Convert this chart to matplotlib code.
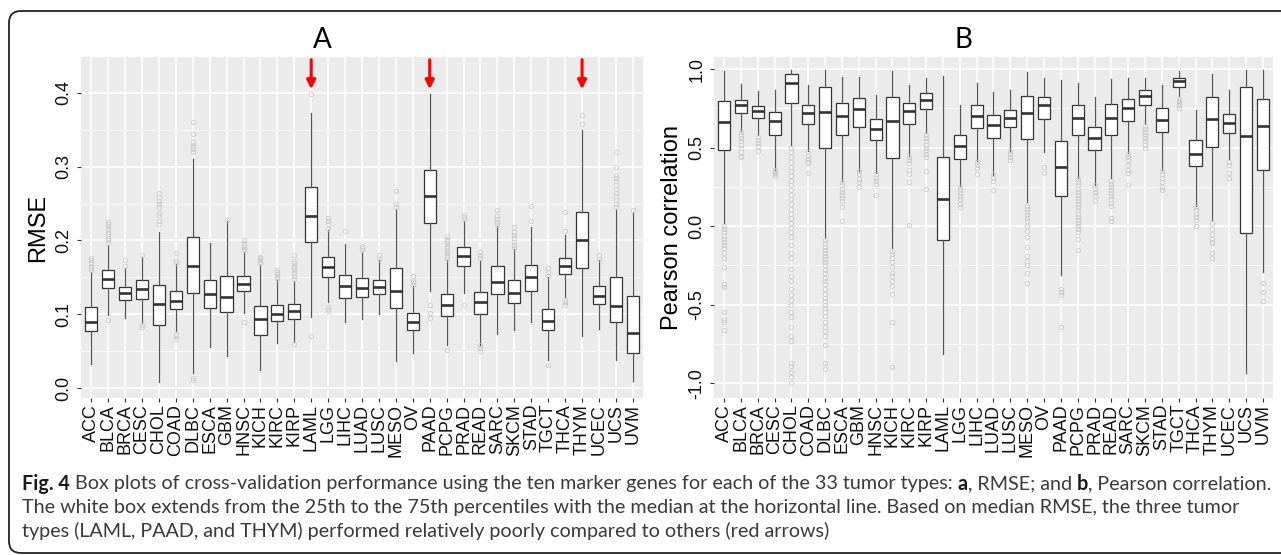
import matplotlib
matplotlib.use("Agg")
import matplotlib.pyplot as plt
from matplotlib.patches import FancyBboxPatch
from matplotlib.transforms import IdentityTransform

tumors = ["ACC", "BLCA", "BRCA", "CESC", "CHOL", "COAD", "DLBC", "ESCA", "GBM", "HNSC",
          "KICH", "KIRC", "KIRP", "LAML", "LGG", "LIHC", "LUAD", "LUSC", "MESO", "OV",
          "PAAD", "PCPG", "PRAD", "READ", "SARC", "SKCM", "STAD", "TGCT", "THCA", "THYM",
          "UCEC", "UCS", "UVM"]

# panel A: RMSE box stats
rmse_q1 = [0.077, 0.135, 0.119, 0.121, 0.086, 0.107, 0.129, 0.109, 0.103, 0.131,
           0.072, 0.091, 0.094, 0.198, 0.151, 0.122, 0.123, 0.127, 0.109, 0.078,
           0.224, 0.097, 0.165, 0.101, 0.128, 0.115, 0.131, 0.078, 0.154, 0.163,
           0.114, 0.090, 0.048]
rmse_med = [0.090, 0.148, 0.129, 0.134, 0.114, 0.118, 0.165, 0.128, 0.124, 0.141,
            0.093, 0.101, 0.104, 0.233, 0.164, 0.138, 0.135, 0.137, 0.131, 0.090,
            0.260, 0.112, 0.179, 0.116, 0.144, 0.129, 0.150, 0.091, 0.165, 0.200,
            0.125, 0.111, 0.075]
rmse_q3 = [0.110, 0.160, 0.137, 0.146, 0.140, 0.132, 0.205, 0.146, 0.152, 0.152,
           0.111, 0.113, 0.114, 0.273, 0.177, 0.153, 0.149, 0.146, 0.163, 0.102,
           0.295, 0.128, 0.191, 0.130, 0.165, 0.146, 0.167, 0.107, 0.176, 0.239,
           0.138, 0.151, 0.125]
rmse_lo = [0.032, 0.099, 0.095, 0.088, 0.008, 0.077, 0.020, 0.056, 0.043, 0.102,
           0.024, 0.061, 0.063, 0.096, 0.117, 0.090, 0.093, 0.101, 0.037, 0.047,
           0.132, 0.059, 0.129, 0.059, 0.073, 0.079, 0.090, 0.038, 0.124, 0.070,
           0.080, 0.038, 0.009]
rmse_hi = [0.157, 0.194, 0.163, 0.178, 0.212, 0.168, 0.310, 0.196, 0.226, 0.185,
           0.167, 0.146, 0.145, 0.373, 0.214, 0.195, 0.185, 0.173, 0.242, 0.138,
           0.398, 0.173, 0.227, 0.174, 0.219, 0.188, 0.218, 0.150, 0.207, 0.350,
           0.174, 0.243, 0.237]
rmse_fliers = [
    [0.160, 0.163, 0.166, 0.170, 0.173, 0.176],
    [0.092, 0.197, 0.200, 0.203, 0.206, 0.209, 0.212, 0.216, 0.219, 0.222, 0.225],
    [0.166, 0.173],
    [0.085, 0.083, 0.181],
    [0.222, 0.226, 0.235, 0.237, 0.246, 0.250, 0.254, 0.259, 0.264],
    [0.073, 0.070, 0.067, 0.170, 0.172, 0.183],
    [0.014, 0.011, 0.320, 0.324, 0.327, 0.330, 0.333, 0.344, 0.361],
    [],
    [0.228],
    [0.090, 0.187, 0.189, 0.191, 0.194, 0.197, 0.200],
    [0.169, 0.171, 0.174, 0.176, 0.178],
    [0.148, 0.151, 0.154, 0.157, 0.160],
    [0.060, 0.148, 0.152, 0.156, 0.160, 0.163, 0.166, 0.169, 0.172, 0.181],
    [0.071, 0.399],
    [0.104, 0.107, 0.110, 0.216, 0.222, 0.227, 0.230],
    [0.213],
    [0.187, 0.190, 0.193],
    [0.175, 0.181],
    [0.245, 0.249, 0.267],
    [0.140, 0.144, 0.147, 0.152],
    [0.113, 0.102, 0.095],
    [0.052, 0.175, 0.178, 0.181, 0.184, 0.187, 0.190, 0.193, 0.196, 0.199, 0.202, 0.206],
    [0.112, 0.229, 0.232, 0.235],
    [0.058, 0.054, 0.050, 0.176, 0.180, 0.185],
    [0.221, 0.225, 0.229, 0.233, 0.241],
    [0.190, 0.194, 0.198, 0.203, 0.207, 0.212, 0.218],
    [0.226, 0.247],
    [0.031, 0.152, 0.157, 0.163],
    [0.112, 0.116, 0.120, 0.213, 0.238],
    [0.358, 0.370],
    [0.175, 0.181],
    [0.245, 0.250, 0.255, 0.260, 0.265, 0.270, 0.275, 0.280, 0.285, 0.289, 0.300, 0.320],
    [0.241],
]

# panel B: Pearson correlation box stats
pcc_q1 = [0.484, 0.722, 0.690, 0.580, 0.786, 0.652, 0.497, 0.584, 0.631, 0.546,
          0.435, 0.652, 0.747, -0.089, 0.427, 0.626, 0.563, 0.635, 0.556, 0.686,
          0.191, 0.584, 0.488, 0.584, 0.673, 0.775, 0.599, 0.890, 0.382, 0.507,
          0.594, -0.042, 0.361]
pcc_med = [0.662, 0.769, 0.732, 0.667, 0.913, 0.722, 0.726, 0.701, 0.747, 0.620,
           0.673, 0.732, 0.807, 0.170, 0.514, 0.705, 0.645, 0.690, 0.722, 0.769,
           0.376, 0.692, 0.565, 0.690, 0.752, 0.830, 0.677, 0.926, 0.463, 0.686,
           0.660, 0.577, 0.641]
pcc_q3 = [0.796, 0.807, 0.764, 0.728, 0.970, 0.775, 0.885, 0.783, 0.815, 0.684,
          0.822, 0.786, 0.849, 0.439, 0.582, 0.769, 0.709, 0.739, 0.828, 0.824,
          0.541, 0.769, 0.635, 0.779, 0.813, 0.868, 0.754, 0.945, 0.552, 0.820,
          0.713, 0.887, 0.813]
pcc_lo = [0.020, 0.605, 0.584, 0.361, 0.520, 0.478, -0.074, 0.287, 0.350, 0.340,
          -0.138, 0.446, 0.594, -0.813, 0.255, 0.414, 0.329, 0.478, 0.153, 0.473,
          -0.314, 0.308, 0.265, 0.308, 0.467, 0.648, 0.361, 0.828, 0.127, 0.038,
          0.425, -0.934, -0.293]
pcc_hi = [0.991, 0.907, 0.860, 0.870, 0.995, 0.898, 0.998, 0.951, 0.949, 0.834,
          0.991, 0.902, 0.941, 0.955, 0.773, 0.911, 0.858, 0.866, 0.985, 0.943,
          0.934, 0.913, 0.824, 0.938, 0.941, 0.945, 0.900, 0.991, 0.743, 0.972,
          0.866, 0.998, 0.998]
pcc_fliers = [
    [0.0, -0.02, -0.04, -0.06, -0.08, -0.10, -0.12, -0.14, -0.17, -0.20, -0.26, -0.37, -0.39,
     -0.55, -0.60, -0.61, -0.66],
    [0.60, 0.58, 0.56, 0.54, 0.52, 0.50, 0.47, 0.45, 0.44],
    [0.57, 0.55, 0.53, 0.51, 0.48],
    [0.36, 0.35, 0.34, 0.33, 0.32],
    [0.50, 0.47, 0.44, 0.41, 0.38, 0.35, 0.32, 0.29, 0.26, 0.23, 0.20, 0.17, 0.14, 0.11, 0.08,
     0.05, 0.02, -0.01, -0.04, -0.07, -0.12, -0.17, -0.20, -0.27, -0.32, -0.35, -0.40, -0.44,
     -0.47, -0.50, -0.55, -0.58, -0.64, -0.70, -0.73, -0.87, -0.89, -0.93, -0.96, -1.0],
    [0.47, 0.45, 0.43, 0.41, 0.40, 0.34],
    [-0.09, -0.11, -0.13, -0.15, -0.17, -0.19, -0.21, -0.23, -0.25, -0.28, -0.30, -0.33, -0.35,
     -0.37, -0.40, -0.43, -0.46, -0.48, -0.50, -0.52, -0.55, -0.57, -0.61, -0.64, -0.67, -0.70,
     -0.76, -0.87, -0.91],
    [0.28, 0.26, 0.24, 0.22, 0.20, 0.18, 0.16, 0.12, 0.03],
    [0.35, 0.33, 0.30, 0.28, 0.25],
    [0.33, 0.31, 0.29, 0.27, 0.20],
    [-0.16, -0.18, -0.20, -0.23, -0.26, -0.30, -0.32, -0.35, -0.38, -0.43, -0.61, -0.90],
    [0.44, 0.42, 0.40, 0.36, 0.33, 0.28, 0.01],
    [0.58, 0.56, 0.54, 0.52, 0.50, 0.48, 0.46, 0.44, 0.35, 0.24],
    [],
    [0.25, 0.23, 0.21, 0.19, 0.17, 0.14, 0.12],
    [0.41, 0.39, 0.37, 0.33],
    [0.33, 0.31, 0.29, 0.23],
    [0.48, 0.46, 0.44, 0.42],
    [0.13, 0.11, 0.09, 0.07, 0.05, 0.03, 0.0, -0.03, -0.07, -0.13, -0.19, -0.22, -0.25, -0.30, -0.36],
    [0.38, 0.34],
    [-0.40, -0.42, -0.44, -0.64],
    [0.30, 0.28, 0.26, 0.24, 0.22, 0.20, 0.18, 0.16, 0.14, 0.12, 0.10, 0.08, 0.06, 0.04, 0.02,
     0.0, -0.02, -0.04, -0.08, -0.15],
    [0.26, 0.24, 0.22, 0.20, 0.16],
    [0.29, 0.27, 0.25, 0.23, 0.21, 0.19, 0.17, 0.15, 0.13, 0.05, 0.03],
    [0.46, 0.44, 0.42, 0.39, 0.36, 0.34, 0.26],
    [0.64, 0.62, 0.60, 0.58, 0.56, 0.54, 0.52, 0.50],
    [0.35, 0.33, 0.31, 0.28, 0.25, 0.23],
    [0.81, 0.80, 0.79, 0.78, 0.77, 0.75],
    [0.12, 0.10, 0.08, 0.06, 0.04, 0.0],
    [0.02, -0.02, -0.05, -0.08, -0.10, -0.11, -0.17, -0.20],
    [0.41, 0.39, 0.34, 0.31],
    [],
    [-0.36, -0.42, -0.48],
]

poor = ["LAML", "PAAD", "THYM"]

W, H = 1281, 555
fig = plt.figure(figsize=(W / 100, H / 100), dpi=100)
fig.patch.set_facecolor("white")

plot_font = ["Liberation Sans", "DejaVu Sans"]
cap_font = ["Lato", "DejaVu Sans"]


def px_axes(left, top, right, bottom):
    return fig.add_axes([left / W, 1 - bottom / H, (right - left) / W, (bottom - top) / H])


def draw_panel(ax, q1, med, q3, lo, hi, fliers, ylim, yticks, ylabel, minor):
    pos = list(range(1, len(tumors) + 1))
    stats = []
    for i in range(len(tumors)):
        stats.append(dict(q1=q1[i], med=med[i], q3=q3[i], whislo=lo[i], whishi=hi[i],
                          fliers=fliers[i]))
    ax.set_facecolor("#EBEBEB")
    for y in minor:
        ax.axhline(y, color="white", lw=0.55, zorder=0)
    for y in yticks:
        ax.axhline(y, color="white", lw=1.1, zorder=0)
    for x in pos:
        ax.axvline(x, color="white", lw=1.1, zorder=0)
    ax.bxp(stats, positions=pos, widths=0.72, patch_artist=True, showcaps=False,
           boxprops=dict(facecolor="white", edgecolor="#333333", linewidth=0.9),
           medianprops=dict(color="#333333", linewidth=1.9),
           whiskerprops=dict(color="#555555", linewidth=0.9),
           flierprops=dict(marker="o", markerfacecolor="none", markeredgecolor="#CACACA",
                           markersize=3.2, markeredgewidth=0.6))
    ax.set_xlim(0.4, len(tumors) + 0.6)
    ax.set_ylim(*ylim)
    ax.set_xticks(pos)
    ax.set_xticklabels(tumors, rotation=90, fontsize=13, family=plot_font, color="#111111")
    ax.set_yticks(yticks)
    ax.set_yticklabels(["%.1f" % v for v in yticks], rotation=90, va="center",
                       fontsize=13, family=plot_font, color="#111111")
    ax.tick_params(axis="both", length=3.2, width=0.8, color="#333333")
    ax.tick_params(axis="x", pad=1)
    ax.tick_params(axis="y", pad=3)
    for s in ax.spines.values():
        s.set_visible(False)
    ax.set_ylabel(ylabel, fontsize=17, family=plot_font, va="center", ha="center")


# panel A
axA = px_axes(81, 57, 643, 398)
draw_panel(axA, rmse_q1, rmse_med, rmse_q3, rmse_lo, rmse_hi, rmse_fliers,
           (-0.0135, 0.4487), [0.0, 0.1, 0.2, 0.3, 0.4], "RMSE",
           [0.05, 0.15, 0.25, 0.35])
axA.yaxis.set_label_coords((38 - 81) / 562, 0.5)
for name in poor:
    x = tumors.index(name) + 1
    axA.annotate("", xy=(x, 0.405), xytext=(x, 0.445),
                 arrowprops=dict(arrowstyle="-|>", color="red", lw=2.2,
                                 mutation_scale=13, shrinkA=0, shrinkB=0))

# panel B
axB = px_axes(714, 57, 1273, 398)
draw_panel(axB, pcc_q1, pcc_med, pcc_q3, pcc_lo, pcc_hi, pcc_fliers,
           (-1.095, 1.078), [-1.0, -0.5, 0.0, 0.5, 1.0], "Pearson correlation",
           [-0.75, -0.25, 0.25, 0.75])
axB.yaxis.set_label_coords((672 - 714) / 559, 0.5)

fig.text(322 / W, 1 - 40 / H, "A", fontsize=20, family=cap_font, ha="center", va="center")
fig.text(963 / W, 1 - 40 / H, "B", fontsize=20, family=cap_font, ha="center", va="center")

# rounded frame
frame = FancyBboxPatch((9, 2), 1300, 542, boxstyle="round,pad=0,rounding_size=12",
                       transform=IdentityTransform(), facecolor="none",
                       edgecolor="#222222", linewidth=1.3, clip_on=False)
fig.add_artist(frame)

# caption
renderer = fig.canvas.get_renderer()


def ink_width(s, size, weight):
    t = fig.text(0, 0, s, fontsize=size, fontweight=weight, family=cap_font)
    w = t.get_window_extent(renderer).width
    t.remove()
    return w


def advance(s, size, weight):
    return ink_width("|" + s + "|", size, weight) - ink_width("||", size, weight)


cap_lines = [
    [("Fig. 4", "bold"),
     (" Box plots of cross-validation performance using the ten marker genes for each of the 33 tumor types: ", "normal"),
     ("a", "bold"), (", RMSE; and ", "normal"), ("b", "bold"), (", Pearson correlation.", "normal")],
    [("The white box extends from the 25th to the 75th percentiles with the median at the horizontal line. "
      "Based on median RMSE, the three tumor", "normal")],
    [("types (LAML, PAAD, and THYM) performed relatively poorly compared to others (red arrows)", "normal")],
]
cap_y = [484, 508, 531]
cap_x0, cap_x1 = 22, 1266

base = 13.0
total = sum(advance(s, base, wt) for s, wt in cap_lines[0])
size = base * (cap_x1 - cap_x0) / total

for line, y in zip(cap_lines, cap_y):
    pen = cap_x0
    for s, wt in line:
        lead = len(s) - len(s.lstrip(" "))
        x = pen + lead * advance(" ", size, wt)
        fig.text(x / W, 1 - y / H, s.strip(" "), fontsize=size, fontweight=wt,
                 family=cap_font, va="center", ha="left",
                 color="#1a1a1a" if wt == "bold" else "#3a3a3a")
        pen += advance(s, size, wt)

fig.savefig("out.png", dpi=100)
